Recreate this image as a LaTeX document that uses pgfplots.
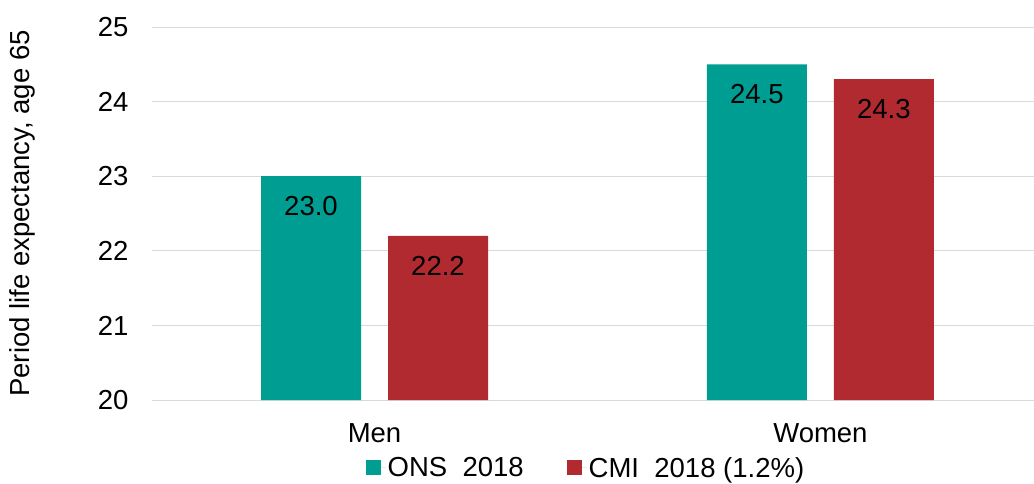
\documentclass[border=0pt]{standalone}
\usepackage{pgfplots}
\pgfplotsset{compat=1.18}
\usepackage{fontspec}
\setmainfont{Liberation Sans}
\definecolor{onsteal}{RGB}{0,158,146}
\definecolor{cmired}{RGB}{176,42,48}
\definecolor{gridgray}{RGB}{217,217,217}
\begin{document}
\begin{tikzpicture}
\begin{axis}[
  scale only axis,
  width=882pt, height=373pt,
  xmin=-0.499, xmax=1.479, ymin=20, ymax=25,
  ybar=27pt, bar width=100pt,
  xtick={0,1}, xticklabels={Men,Women},
  ytick={20,21,22,23,24,25},
  ymajorgrids, grid style={draw=gridgray, line width=1pt},
  axis line style={draw=none},
  major tick length=0pt,
  font=\fontsize{27.5}{33}\selectfont,
  /pgf/number format/assume math mode=true,
  yticklabel style={xshift=-20pt},
  xticklabel style={yshift=-20pt},
  ylabel={Period life expectancy, age 65},
  ylabel style={at={(axis description cs:-0.1474,0.5)}, anchor=center},
  nodes near coords,
  nodes near coords style={anchor=center, yshift=-30pt, text=black,
    /pgf/number format/.cd, fixed, fixed zerofill, precision=1, assume math mode=true},
  legend columns=2,
  legend style={draw=none, fill=none, at={(0.492,-0.182)}, anchor=center,
    /tikz/every even column/.append style={column sep=41pt},
    font=\fontsize{27.5}{33}\selectfont},
  legend image code/.code={\fill[#1] (0pt,-7.5pt) rectangle (15pt,7.5pt); \path (0pt,0pt) -- (20pt,0pt);},
]
\addplot[fill=onsteal, draw=none] coordinates {(0,23.0) (1,24.5)};
\addlegendentry{ONS\ \ 2018}
\addplot[fill=cmired, draw=none] coordinates {(0,22.2) (1,24.3)};
\addlegendentry{CMI\ \ 2018 (1.2\%)}
\end{axis}
\pgfresetboundingbox
\path (-152pt,-83pt) rectangle (882pt,400pt);
\end{tikzpicture}
\end{document}
